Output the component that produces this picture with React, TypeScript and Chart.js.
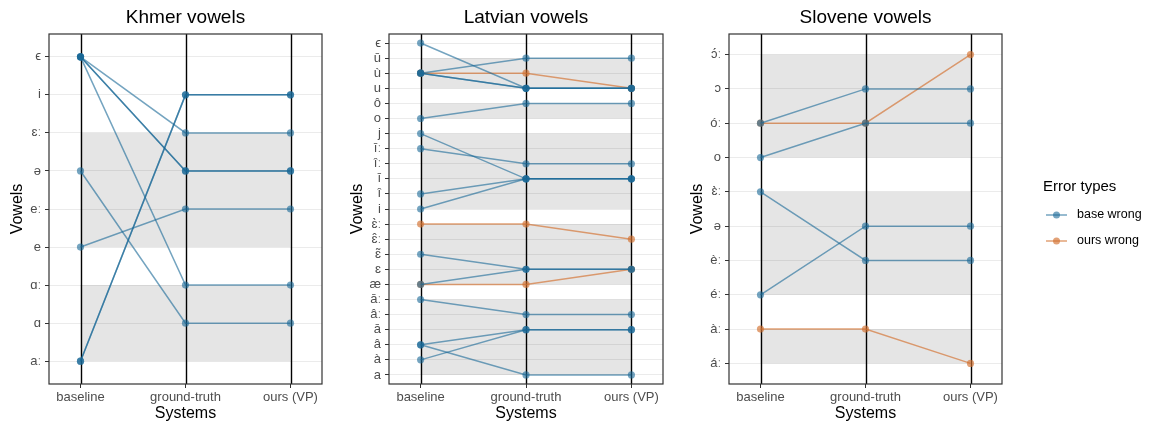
import React, { useEffect, useRef } from 'react';
import { Chart, registerables } from 'chart.js';

Chart.register(...registerables);

const FAMILY = '"Liberation Sans", Arial, Helvetica, sans-serif';

// x categories
const systems = ['baseline', 'ground-truth', 'ours (VP)'];
const errorTypes = ['base wrong', 'ours wrong'];

// ---- Khmer (y categories listed bottom -> top) ----
const khmerVowels = ['aː', 'ɑ', 'ɑː', 'e', 'eː', 'ə', 'ɛː', 'i', 'ϵ'];
const khmerBands = [['aː', 'ɑː'], ['e', 'ɛː']];
const khmerBaseline = ['ϵ', 'ϵ', 'ϵ', 'ϵ', 'ə', 'e', 'aː', 'aː'];
const khmerTruth = ['ɛː', 'ə', 'ə', 'ɑː', 'ɑ', 'eː', 'i', 'i'];
const khmerOurs = ['ɛː', 'ə', 'ə', 'ɑː', 'ɑ', 'eː', 'i', 'i'];
const khmerErrors = ['base', 'base', 'base', 'base', 'base', 'base', 'base', 'base'];

// ---- Latvian ----
const latvianVowels = ['a', 'à', 'â', 'ā', 'âː', 'āː', 'æ', 'ɛ', 'ɛ̃', 'ɛ̂ː', 'ɛ̀ː', 'i', 'î', 'ī', 'îː', 'īː', 'j', 'o', 'ô', 'u', 'ù', 'ū', 'ϵ'];
const latvianBands = [['a', 'āː'], ['æ', 'ɛ̀ː'], ['i', 'j'], ['o', 'ô'], ['u', 'ū']];
const latvianBaseline = ['ϵ', 'ù', 'ù', 'ù', 'o', 'j', 'īː', 'î', 'i', 'ɛ̃', 'æ', 'āː', 'â', 'à', 'â', 'ù', 'ɛ̀ː', 'æ'];
const latvianTruth = ['u', 'ū', 'u', 'u', 'ô', 'ī', 'îː', 'ī', 'ī', 'ɛ', 'ɛ', 'âː', 'ā', 'ā', 'a', 'ù', 'ɛ̀ː', 'æ'];
const latvianOurs = ['u', 'ū', 'u', 'u', 'ô', 'ī', 'îː', 'ī', 'ī', 'ɛ', 'ɛ', 'âː', 'ā', 'ā', 'a', 'u', 'ɛ̂ː', 'ɛ'];
const latvianErrors = ['base', 'base', 'base', 'base', 'base', 'base', 'base', 'base', 'base', 'base', 'base', 'base', 'base', 'base', 'base', 'ours', 'ours', 'ours'];

// ---- Slovene ----
const sloveneVowels = ['áː', 'àː', 'éː', 'èː', 'ə', 'ɛ̀ː', 'o', 'óː', 'ɔ', 'ɔ́ː'];
const sloveneBands = [['áː', 'àː'], ['éː', 'ɛ̀ː'], ['o', 'ɔ́ː']];
const sloveneBaseline = ['óː', 'o', 'ɛ̀ː', 'éː', 'óː', 'àː'];
const sloveneTruth = ['ɔ', 'óː', 'èː', 'ə', 'óː', 'àː'];
const sloveneOurs = ['ɔ', 'óː', 'èː', 'ə', 'ɔ́ː', 'áː'];
const sloveneErrors = ['base', 'base', 'base', 'base', 'ours', 'ours'];

const COLORS: Record<string, string> = {
  base: 'rgba(24,104,150,0.6)',
  ours: 'rgba(210,110,45,0.65)',
};

type PanelDef = {
  title: string;
  vowels: string[];
  bands: string[][];
  baseline: string[];
  truth: string[];
  ours: string[];
  errors: string[];
  left: number;
  width: number;
  padRight: number;
  legend?: boolean;
};

const panels: PanelDef[] = [
  { title: 'Khmer vowels', vowels: khmerVowels, bands: khmerBands, baseline: khmerBaseline, truth: khmerTruth, ours: khmerOurs, errors: khmerErrors, left: 0, width: 340, padRight: 18 },
  { title: 'Latvian vowels', vowels: latvianVowels, bands: latvianBands, baseline: latvianBaseline, truth: latvianTruth, ours: latvianOurs, errors: latvianErrors, left: 340, width: 340, padRight: 17 },
  { title: 'Slovene vowels', vowels: sloveneVowels, bands: sloveneBands, baseline: sloveneBaseline, truth: sloveneTruth, ours: sloveneOurs, errors: sloveneErrors, left: 680, width: 471, padRight: 149, legend: true },
];

const panelPlugin = {
  id: 'panelDeco',
  beforeDatasetsDraw(chart: any, _args: any, opts: any) {
    const { ctx, chartArea, scales } = chart;
    const x = scales.x;
    const y = scales.y;
    ctx.save();
    ctx.fillStyle = 'rgba(0,0,0,0.1)';
    for (const [a, b] of opts.bands as number[][]) {
      const x0 = x.getPixelForValue(0);
      const x1 = x.getPixelForValue(systems.length - 1);
      const y0 = y.getPixelForValue(a);
      const y1 = y.getPixelForValue(b);
      ctx.fillRect(x0, y1, x1 - x0, y0 - y1);
    }
    ctx.strokeStyle = '#000';
    ctx.lineWidth = 1.4;
    systems.forEach((_s, i) => {
      const px = Math.round(x.getPixelForValue(i)) + 0.5;
      ctx.beginPath();
      ctx.moveTo(px, chartArea.top);
      ctx.lineTo(px, chartArea.bottom);
      ctx.stroke();
    });
    ctx.restore();
  },
  afterDatasetsDraw(chart: any) {
    const { ctx, chartArea } = chart;
    ctx.save();
    ctx.strokeStyle = '#333333';
    ctx.lineWidth = 1.2;
    ctx.strokeRect(chartArea.left, chartArea.top, chartArea.right - chartArea.left, chartArea.bottom - chartArea.top);
    ctx.restore();
  },
  afterDraw(chart: any, _args: any, opts: any) {
    if (!opts.legend) return;
    const { ctx, chartArea } = chart;
    const lx = chartArea.right + 41;
    ctx.save();
    ctx.textAlign = 'left';
    ctx.textBaseline = 'middle';
    ctx.fillStyle = '#000';
    ctx.font = `15px ${FAMILY}`;
    ctx.fillText('Error types', lx, 187);
    ['base', 'ours'].forEach((key, i) => {
      const cy = 215 + i * 26;
      ctx.strokeStyle = COLORS[key];
      ctx.fillStyle = COLORS[key];
      ctx.lineWidth = 1.5;
      ctx.beginPath();
      ctx.moveTo(lx + 3, cy);
      ctx.lineTo(lx + 24, cy);
      ctx.stroke();
      ctx.beginPath();
      ctx.arc(lx + 13.5, cy, 3.5, 0, Math.PI * 2);
      ctx.fill();
      ctx.fillStyle = '#000';
      ctx.font = `12.5px ${FAMILY}`;
      ctx.fillText(errorTypes[i], lx + 34, cy);
    });
    ctx.restore();
  },
};

function Panel({ def }: { def: PanelDef }) {
  const ref = useRef<HTMLCanvasElement | null>(null);
  useEffect(() => {
    if (!ref.current) return;
    const idx = (v: string) => def.vowels.indexOf(v);
    const datasets = def.baseline.map((b, i) => {
      const c = COLORS[def.errors[i]];
      return {
        type: 'line' as const,
        data: [
          { x: 0, y: idx(b) },
          { x: 1, y: idx(def.truth[i]) },
          { x: 2, y: idx(def.ours[i]) },
        ],
        borderColor: c,
        backgroundColor: c,
        pointBackgroundColor: c,
        pointBorderWidth: 0,
        pointRadius: 3.6,
        borderWidth: 1.5,
        fill: false,
        tension: 0,
      };
    });
    const tickFont = { family: FAMILY, size: 13 };
    const titleFont = { family: FAMILY, size: 16 };
    const chart = new Chart(ref.current, {
      type: 'line',
      data: { datasets },
      plugins: [panelPlugin],
      options: {
        animation: false,
        responsive: false,
        maintainAspectRatio: false,
        layout: { padding: { left: 4, right: def.padRight, top: 0, bottom: 1 } },
        plugins: {
          legend: { display: false },
          tooltip: { enabled: false },
          title: {
            display: true,
            text: def.title,
            fullSize: false,
            color: '#000',
            font: { family: FAMILY, size: 19, weight: 'normal' },
            padding: { top: 6.6, bottom: 4.6 },
          },
          panelDeco: {
            bands: def.bands.map(([a, b]) => [idx(a), idx(b)]),
            legend: !!def.legend,
          },
        } as any,
        scales: {
          x: {
            type: 'linear',
            min: -0.3,
            max: systems.length - 1 + 0.3,
            afterBuildTicks: (s: any) => {
              s.ticks = systems.map((_v, i) => ({ value: i }));
            },
            afterFit: (s: any) => {
              s.height = 40;
            },
            ticks: {
              callback: (v: any) => systems[v as number] ?? '',
              color: '#4d4d4d',
              font: tickFont,
              padding: 2,
              autoSkip: false,
              maxRotation: 0,
            },
            grid: { drawOnChartArea: false, drawTicks: true, tickLength: 4, tickColor: '#333333', tickWidth: 1 },
            border: { display: false },
            title: { display: true, text: 'Systems', color: '#000', font: titleFont, padding: { top: 0, bottom: 0.4 } },
          },
          y: {
            type: 'linear',
            min: -0.6,
            max: def.vowels.length - 1 + 0.6,
            afterBuildTicks: (s: any) => {
              s.ticks = def.vowels.map((_v, i) => ({ value: i }));
            },
            afterFit: (s: any) => {
              s.width = 45;
            },
            ticks: {
              callback: (v: any) => def.vowels[v as number] ?? '',
              color: '#4d4d4d',
              font: tickFont,
              padding: 4,
              autoSkip: false,
            },
            grid: { color: '#ebebeb', lineWidth: 1, drawTicks: true, tickLength: 4, tickColor: '#333333', tickWidth: 1 },
            border: { display: false },
            title: { display: true, text: 'Vowels', color: '#000', font: titleFont, padding: { top: 4.4, bottom: 0 } },
          },
        } as any,
      },
    } as any);
    return () => chart.destroy();
  }, [def]);
  return (
    <canvas
      ref={ref}
      width={def.width}
      height={425}
      style={{ position: 'absolute', left: def.left, top: 0, width: def.width, height: 425 }}
    />
  );
}

export default function App() {
  return (
    <div style={{ position: 'fixed', left: 0, top: 0, width: 1151, height: 425, background: '#fff', overflow: 'hidden' }}>
      {panels.map((p) => (
        <Panel key={p.title} def={p} />
      ))}
    </div>
  );
}
